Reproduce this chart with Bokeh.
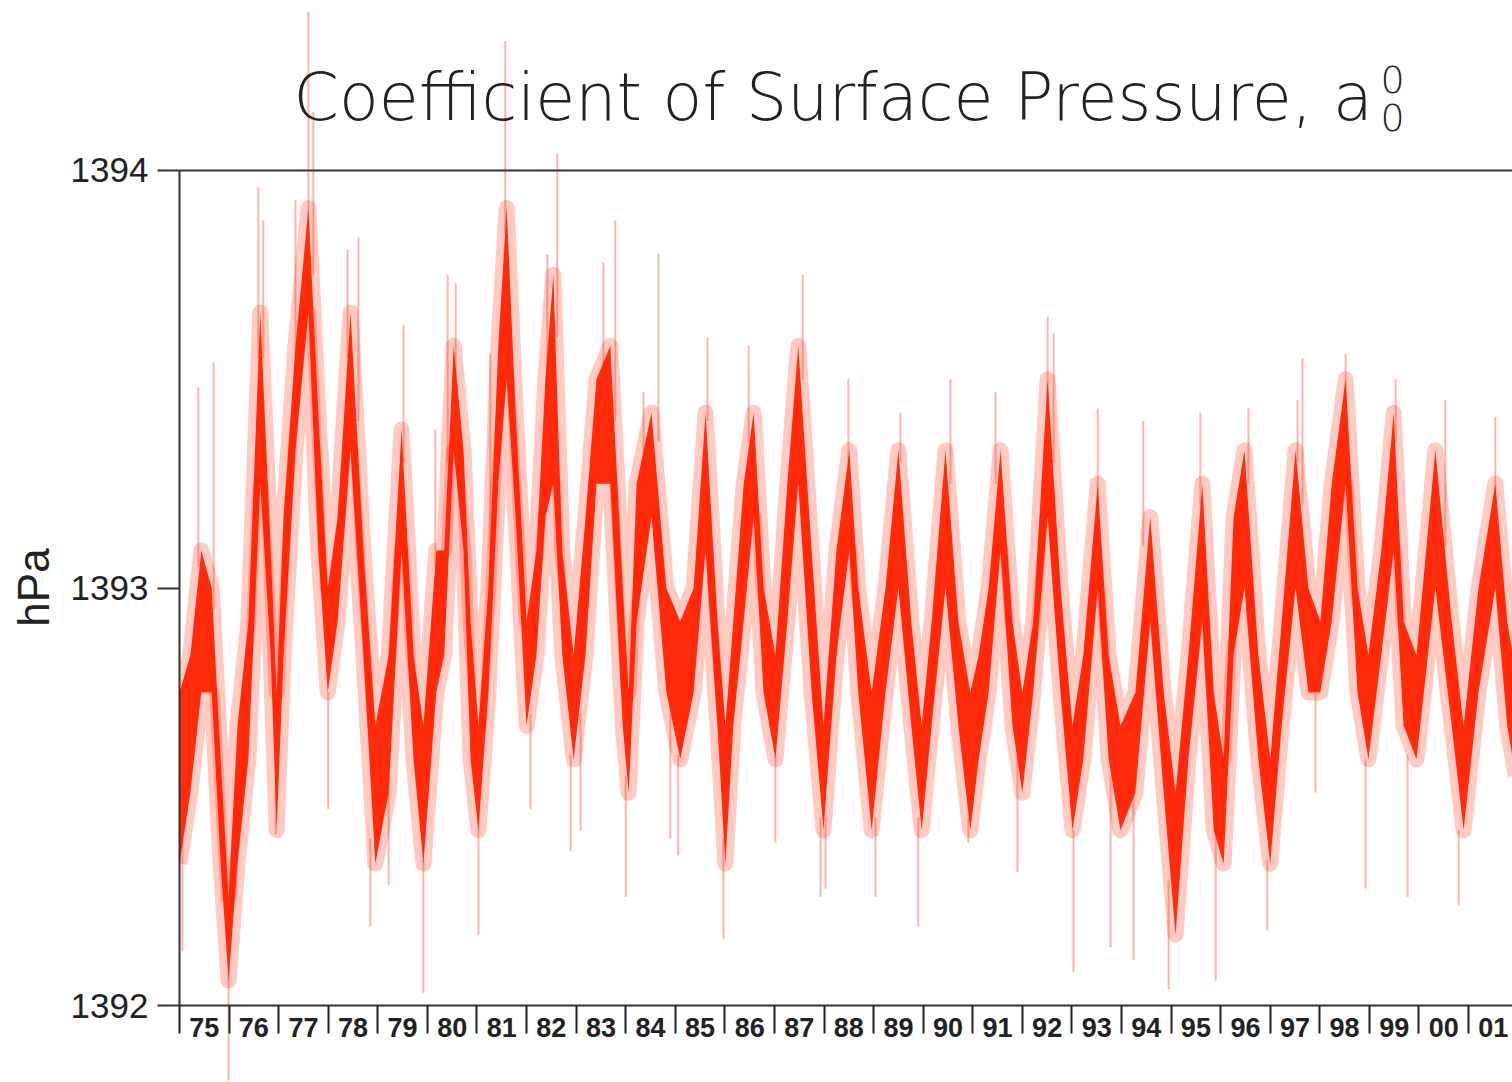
import math
from bokeh.plotting import figure
from bokeh.models import Range1d, FixedTicker, LinearAxis, Label, ColumnDataSource, BoxAnnotation
from bokeh.embed import file_html
from bokeh.resources import INLINE

# ---- data (decimal year, hPa) ----
years = [1975.00, 1975.22, 1975.44, 1975.65, 1975.83, 1975.99, 1976.17, 1976.39, 1976.63, 1976.84,
         1976.96, 1977.10, 1977.34, 1977.60, 1977.80, 1977.99, 1978.19, 1978.45, 1978.71, 1978.95,
         1979.22, 1979.48, 1979.72, 1979.92, 1980.18, 1980.34, 1980.53, 1980.73, 1980.87, 1981.03,
         1981.23, 1981.43, 1981.60, 1981.78, 1982.00, 1982.20, 1982.38, 1982.54, 1982.72, 1982.95,
         1983.19, 1983.41, 1983.69, 1983.94, 1984.06, 1984.22, 1984.52, 1984.82, 1985.10, 1985.37,
         1985.61, 1985.85, 1986.01, 1986.17, 1986.38, 1986.58, 1986.78, 1987.02, 1987.26, 1987.48,
         1987.75, 1987.99, 1988.25, 1988.51, 1988.69, 1988.96, 1989.24, 1989.50, 1989.76, 1989.97,
         1990.17, 1990.45, 1990.71, 1990.95, 1991.12, 1991.32, 1991.56, 1991.80, 1992.00, 1992.22,
         1992.51, 1992.77, 1993.01, 1993.23, 1993.52, 1993.74, 1993.98, 1994.28, 1994.58, 1994.85,
         1995.09, 1995.35, 1995.63, 1995.86, 1996.06, 1996.26, 1996.48, 1996.76, 1997.00, 1997.23,
         1997.51, 1997.77, 1998.01, 1998.24, 1998.52, 1998.76, 1998.98, 1999.24, 1999.49, 1999.69,
         1999.95, 2000.33, 2000.66, 2000.90, 2001.20, 2001.54, 2001.78, 2001.95]

core_hi = [1392.75, 1392.84, 1393.09, 1393.00, 1392.59, 1392.26, 1392.67, 1392.92, 1393.66, 1393.09,
           1392.75, 1393.17, 1393.58, 1393.91, 1393.42, 1393.00, 1393.17, 1393.66, 1393.09, 1392.67,
           1392.84, 1393.38, 1392.84, 1392.67, 1393.09, 1393.09, 1393.58, 1393.33, 1392.92, 1392.67,
           1393.00, 1393.58, 1393.91, 1393.42, 1392.92, 1393.09, 1393.50, 1393.75, 1393.09, 1392.84,
           1393.17, 1393.50, 1393.58, 1393.00, 1392.75, 1393.25, 1393.42, 1393.00, 1392.92, 1393.00,
           1393.42, 1392.92, 1392.67, 1392.92, 1393.25, 1393.42, 1393.00, 1392.84, 1393.25, 1393.58,
           1393.09, 1392.67, 1393.09, 1393.33, 1393.00, 1392.75, 1393.00, 1393.33, 1392.92, 1392.67,
           1392.92, 1393.33, 1392.92, 1392.75, 1392.84, 1393.00, 1393.33, 1392.92, 1392.75, 1392.92,
           1393.50, 1393.00, 1392.67, 1392.84, 1393.25, 1392.84, 1392.67, 1392.75, 1393.17, 1392.75,
           1392.51, 1392.84, 1393.25, 1392.75, 1392.59, 1393.17, 1393.33, 1392.84, 1392.59, 1392.92,
           1393.33, 1393.00, 1392.92, 1393.25, 1393.50, 1393.00, 1392.84, 1393.09, 1393.42, 1392.92,
           1392.84, 1393.33, 1392.92, 1392.67, 1393.00, 1393.25, 1392.92, 1392.80]

core_lo = [1392.34, 1392.51, 1392.75, 1392.75, 1392.34, 1392.06, 1392.34, 1392.59, 1393.25, 1392.84,
           1392.42, 1392.84, 1393.33, 1393.66, 1393.09, 1392.75, 1392.92, 1393.33, 1392.84, 1392.34,
           1392.51, 1393.09, 1392.59, 1392.34, 1392.75, 1392.84, 1393.33, 1393.09, 1392.59, 1392.42,
           1392.75, 1393.25, 1393.50, 1393.17, 1392.67, 1392.84, 1393.17, 1393.25, 1392.84, 1392.59,
           1392.84, 1393.25, 1393.25, 1392.67, 1392.51, 1392.92, 1393.17, 1392.75, 1392.59, 1392.75,
           1393.09, 1392.67, 1392.34, 1392.67, 1392.92, 1393.17, 1392.75, 1392.59, 1392.92, 1393.25,
           1392.75, 1392.42, 1392.84, 1393.09, 1392.75, 1392.42, 1392.75, 1393.00, 1392.67, 1392.42,
           1392.67, 1393.00, 1392.67, 1392.42, 1392.59, 1392.75, 1393.09, 1392.67, 1392.51, 1392.75,
           1393.17, 1392.75, 1392.42, 1392.59, 1393.00, 1392.59, 1392.42, 1392.51, 1392.92, 1392.51,
           1392.17, 1392.59, 1392.92, 1392.42, 1392.34, 1392.84, 1393.00, 1392.59, 1392.34, 1392.67,
           1393.00, 1392.75, 1392.75, 1392.92, 1393.25, 1392.75, 1392.59, 1392.84, 1393.09, 1392.67,
           1392.59, 1393.00, 1392.67, 1392.42, 1392.75, 1393.00, 1392.67, 1392.55]

spike_year = [1975.38, 1975.69, 1976.59, 1976.69, 1977.34, 1977.60, 1977.70, 1978.39, 1978.61, 1979.52,
              1980.16, 1980.41, 1980.57, 1981.27, 1981.57, 1982.42, 1982.62, 1983.55, 1983.79, 1984.36,
              1984.66, 1985.65, 1986.48, 1987.57, 1988.49, 1989.54, 1990.55, 1991.46, 1992.51, 1992.63,
              1993.52, 1994.44, 1995.59, 1996.56, 1997.55, 1997.65, 1998.52, 1999.53, 2000.53, 2001.54,
              1975.06, 1975.99, 1976.94, 1978.00, 1978.85, 1979.22, 1979.92, 1981.03, 1982.08, 1982.89,
              1983.09, 1984.00, 1984.90, 1985.06, 1985.97, 1987.02, 1987.93, 1988.03, 1989.04, 1989.90,
              1990.91, 1991.90, 1993.03, 1993.78, 1994.24, 1994.95, 1995.90, 1996.94, 1997.91, 1998.92,
              1999.77, 2000.80]
spike_from = [1393.05, 1392.95, 1393.55, 1393.55, 1393.55, 1393.85, 1393.75, 1393.55, 1393.40, 1393.30,
              1393.05, 1393.30, 1393.50, 1393.00, 1393.85, 1393.45, 1393.60, 1393.50, 1393.40, 1393.25,
              1393.35, 1393.40, 1393.35, 1393.50, 1393.30, 1393.30, 1393.25, 1393.25, 1393.45, 1393.30,
              1393.20, 1393.10, 1393.20, 1393.25, 1393.30, 1393.20, 1393.45, 1393.35, 1393.10, 1393.20,
              1392.40, 1392.10, 1392.55, 1392.75, 1392.40, 1392.55, 1392.35, 1392.45, 1392.70, 1392.60,
              1392.70, 1392.55, 1392.70, 1392.60, 1392.40, 1392.60, 1392.45, 1392.45, 1392.45, 1392.45,
              1392.45, 1392.60, 1392.42, 1392.55, 1392.50, 1392.30, 1392.42, 1392.35, 1392.75, 1392.59,
              1392.60, 1392.42]
spike_to = [1393.48, 1393.54, 1393.96, 1393.88, 1393.93, 1394.38, 1394.14, 1393.81, 1393.84, 1393.63,
            1393.38, 1393.75, 1393.73, 1393.56, 1394.31, 1393.80, 1394.04, 1393.78, 1393.88, 1393.47,
            1393.80, 1393.60, 1393.58, 1393.75, 1393.50, 1393.42, 1393.50, 1393.47, 1393.65, 1393.61,
            1393.43, 1393.40, 1393.42, 1393.43, 1393.45, 1393.55, 1393.56, 1393.50, 1393.45, 1393.41,
            1392.13, 1391.82, 1392.41, 1392.47, 1392.19, 1392.29, 1392.03, 1392.17, 1392.47, 1392.37,
            1392.42, 1392.26, 1392.40, 1392.36, 1392.16, 1392.39, 1392.26, 1392.28, 1392.26, 1392.19,
            1392.39, 1392.32, 1392.08, 1392.14, 1392.11, 1392.04, 1392.06, 1392.18, 1392.51, 1392.28,
            1392.26, 1392.24]

year_ticks = list(range(1975, 2003))
year_labels = ["75", "76", "77", "78", "79", "80", "81", "82", "83", "84", "85", "86", "87", "88",
               "89", "90", "91", "92", "93", "94", "95", "96", "97", "98", "99", "00", "01"]
y_ticks = [1392, 1393, 1394]
title_text = "Coefficient of Surface Pressure, a"
title_sup = "0"
title_sub = "0"
y_label = "hPa"

RED = "#ff2200"
AX = "#333333"
TXT = "#222222"
TITLE_FONT = "DejaVu Sans Light"

src = ColumnDataSource(dict(x=years, hi=core_hi, lo=core_lo))
spk = ColumnDataSource(dict(x=spike_year, y0=spike_from, y1=spike_to))

X0 = 1975.0
X1 = 2003.0
# frame covers the whole canvas; axes are pinned at 1975 / 1392 / 1394
p = figure(width=1512, height=1082, output_backend="svg", toolbar_location=None, title=None,
           x_range=Range1d(1971.390, 2001.886), y_range=Range1d(1391.816, 1394.407),
           min_border_left=0, min_border_right=0, min_border_top=0, min_border_bottom=0,
           x_axis_location=None, y_axis_location=None)
p.outline_line_color = None
p.xgrid.visible = False
p.ygrid.visible = False
p.background_fill_color = "white"
p.border_fill_color = "white"

# pale fringe, pale spikes, saturated core band
p.line("x", "hi", source=src, line_color=RED, line_alpha=0.24, line_width=16, line_join="round")
p.line("x", "lo", source=src, line_color=RED, line_alpha=0.24, line_width=16, line_join="round")
p.segment(x0="x", y0="y0", x1="x", y1="y1", source=spk, line_color=RED, line_alpha=0.35, line_width=2)
p.varea(x="x", y1="lo", y2="hi", source=src, fill_color=RED, fill_alpha=0.95)
# nothing is drawn left of the 1975 axis
p.add_layout(BoxAnnotation(right=X0, fill_color="white", fill_alpha=1.0, line_color=None, level="glyph"))

# y axis pinned at 1975
yax = LinearAxis(ticker=FixedTicker(ticks=y_ticks, minor_ticks=[]), bounds=(1392, 1394),
                 fixed_location=X0)
yax.axis_line_color = AX
yax.axis_line_width = 2
yax.major_tick_line_color = AX
yax.major_tick_line_width = 2
yax.major_tick_out = 22
yax.major_tick_in = 0
yax.minor_tick_line_color = None
yax.major_label_standoff = 9
yax.major_label_text_font = "Liberation Sans"
yax.major_label_text_font_size = "35px"
yax.major_label_text_color = TXT
p.add_layout(yax, "left")

# top line at 1394
topax = LinearAxis(ticker=FixedTicker(ticks=[], minor_ticks=[]), bounds=(X0, X1), fixed_location=1394)
topax.axis_line_color = AX
topax.axis_line_width = 2
topax.major_tick_line_color = None
topax.minor_tick_line_color = None
topax.major_label_text_color = None
p.add_layout(topax, "above")

# x axis: year-boundary ticks
xtick = LinearAxis(ticker=FixedTicker(ticks=year_ticks, minor_ticks=[]), fixed_location=1392,
                   bounds=(X0, X1))
xtick.axis_line_color = AX
xtick.axis_line_width = 2
xtick.major_tick_line_color = TXT
xtick.major_tick_line_width = 2
xtick.major_tick_out = 28
xtick.major_tick_in = 0
xtick.minor_tick_line_color = None
xtick.major_label_text_color = None
p.add_layout(xtick, "below")

# x axis: year labels centred in each year
mids = [y + 0.5 for y in year_ticks[:len(year_labels)]]
xlab = LinearAxis(ticker=FixedTicker(ticks=mids, minor_ticks=[]), fixed_location=1392,
                  major_label_overrides={m: l for m, l in zip(mids, year_labels)})
xlab.axis_line_color = None
xlab.major_tick_line_color = None
xlab.minor_tick_line_color = None
xlab.major_tick_out = 0
xlab.major_tick_in = 0
xlab.major_label_standoff = 12
xlab.major_label_text_font = "Liberation Sans"
xlab.major_label_text_font_style = "bold"
xlab.major_label_text_font_size = "27px"
xlab.major_label_text_color = TXT
p.add_layout(xlab, "below")

# y axis title
p.add_layout(Label(x=33, y=495, x_units="screen", y_units="screen", text=y_label,
                   angle=math.pi / 2, text_align="center", text_baseline="middle",
                   text_font="Liberation Sans", text_font_size="44px", text_color=TXT))

# chart title with a^0_0
p.add_layout(Label(x=293, y=985, x_units="screen", y_units="screen", text=title_text,
                   text_font=TITLE_FONT, text_font_size="65px", text_color=TXT,
                   text_baseline="alphabetic", text_align="left"))
p.add_layout(Label(x=1380, y=1003, x_units="screen", y_units="screen", text=title_sup,
                   text_font=TITLE_FONT, text_font_size="38px", text_color=TXT,
                   text_baseline="alphabetic", text_align="left"))
p.add_layout(Label(x=1380, y=965, x_units="screen", y_units="screen", text=title_sub,
                   text_font=TITLE_FONT, text_font_size="38px", text_color=TXT,
                   text_baseline="alphabetic", text_align="left"))

open("out.html", "w").write(file_html(p, INLINE))
